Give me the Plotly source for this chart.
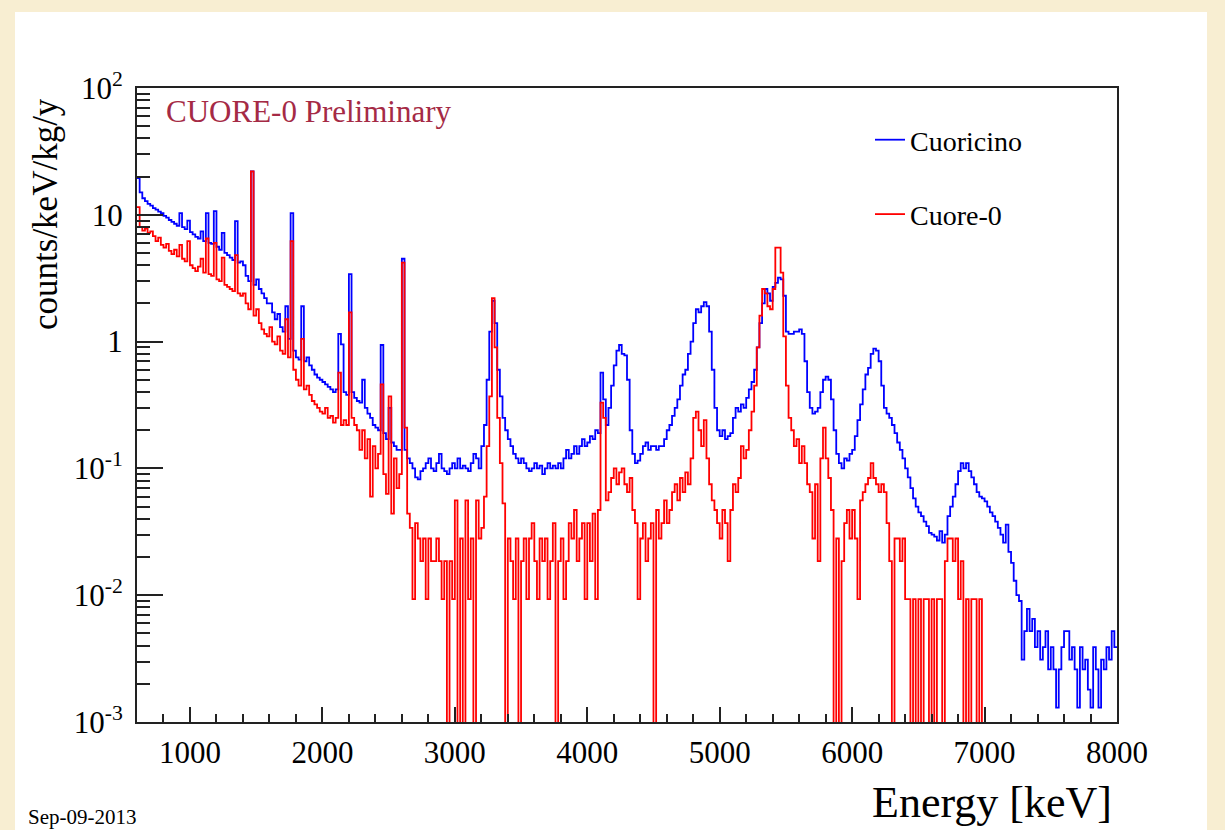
import numpy as np
import plotly.graph_objects as go

# Histogram binning (keV)
e_min = 600
e_max = 8000
bin_width = 20

# Cuoricino spectrum, counts/keV/kg/y, one value per 20 keV bin starting at 600 keV
cuoricino = [
    19.5, 15, 13.5, 12.8, 12.2, 11.8, 11.3, 11, 10.6, 10.3,
    9.8, 9.5, 9.1, 8.8, 8.5, 8.2, 10.3, 8.0, 7.7, 9.0,
    7.3, 7.0, 6.7, 6.5, 7.4, 6.2, 10.3, 6.0, 5.9, 10.7,
    5.6, 5.3, 7.2, 5.0, 4.8, 4.6, 4.4, 8.9, 4.2, 4.3,
    4.0, 3.3, 3.0, 22, 2.8, 3.1, 2.6, 2.4, 2.2, 2.0,
    2.0, 1.7, 1.5, 1.65, 1.3, 1.2, 1.9, 1.05, 10.3, 0.85,
    0.75, 0.72, 1.9, 0.7, 0.75, 0.65, 0.6, 0.55, 0.52, 0.5,
    0.48, 0.46, 0.44, 0.42, 0.4, 0.42, 1.15, 0.95, 0.4, 0.38,
    3.4, 0.4, 0.36, 0.34, 0.33, 0.5, 0.3, 0.27, 0.25, 0.22,
    0.21, 0.2, 0.94, 0.19, 0.17, 0.3, 0.16, 0.15, 0.14, 0.14,
    4.5, 0.14, 0.12, 0.11, 0.1, 0.085, 0.082, 0.095, 0.1, 0.11,
    0.12, 0.1, 0.095, 0.11, 0.13, 0.1, 0.095, 0.09, 0.1, 0.11,
    0.1, 0.12, 0.1, 0.105, 0.1, 0.095, 0.11, 0.13, 0.12, 0.1,
    0.15, 0.22, 0.5, 1.2, 2.1, 1.4, 0.6, 0.37, 0.25, 0.2,
    0.17, 0.15, 0.13, 0.12, 0.11, 0.12, 0.11, 0.1, 0.095, 0.1,
    0.11, 0.1, 0.105, 0.09, 0.1, 0.11, 0.1, 0.105, 0.1, 0.11,
    0.1, 0.12, 0.14, 0.12, 0.13, 0.15, 0.13, 0.15, 0.17, 0.15,
    0.16, 0.18, 0.17, 0.2, 0.19, 0.57, 0.35, 0.22, 0.3, 0.45,
    0.65, 0.85, 0.94, 0.8, 0.78, 0.5, 0.2, 0.13, 0.11, 0.115,
    0.13, 0.15, 0.16, 0.14, 0.15, 0.15, 0.14, 0.15, 0.15, 0.17,
    0.2, 0.22, 0.26, 0.3, 0.35, 0.45, 0.55, 0.6, 0.8, 1.0,
    1.4, 1.8, 1.7, 1.9, 2.05, 1.9, 1.2, 0.6, 0.3, 0.2,
    0.18, 0.2, 0.17, 0.18, 0.19, 0.25, 0.3, 0.28, 0.32, 0.3,
    0.36, 0.42, 0.48, 0.6, 0.9, 1.4, 2.0, 2.6, 2.4, 2.1,
    2.7, 2.9, 3.2, 3.1, 2.3, 1.2, 1.15, 1.15, 1.2, 1.2,
    1.25, 1.15, 0.7, 0.4, 0.3, 0.27, 0.28, 0.3, 0.4, 0.5,
    0.53, 0.5, 0.35, 0.2, 0.13, 0.11, 0.1, 0.12, 0.115, 0.13,
    0.14, 0.18, 0.24, 0.32, 0.42, 0.55, 0.62, 0.8, 0.88, 0.85,
    0.7, 0.45, 0.3, 0.27, 0.25, 0.22, 0.19, 0.16, 0.14, 0.12,
    0.1, 0.085, 0.07, 0.058, 0.05, 0.045, 0.042, 0.038, 0.035, 0.031,
    0.03, 0.029, 0.027, 0.032, 0.026, 0.03, 0.042, 0.05, 0.06, 0.075,
    0.095, 0.11, 0.1, 0.11, 0.095, 0.085, 0.075, 0.065, 0.06, 0.058,
    0.055, 0.05, 0.045, 0.042, 0.038, 0.034, 0.03, 0.026, 0.036, 0.022,
    0.018, 0.013, 0.01, 0.009, 0.0031, 0.0052, 0.0078, 0.0052, 0.0065, 0.0039,
    0.0052, 0.0031, 0.0039, 0.0052, 0.0026, 0.0039, 0.0026, 0.0013, 0.0026, 0.0039,
    0.0052, 0.0052, 0.0031, 0.0039, 0.0026, 0.0013, 0.0039, 0.0026, 0.0031, 0.0018,
    0.0013, 0.0039, 0.0026, 0.0013, 0.0031, 0.0026, 0.0039, 0.0031, 0.0052, 0.0039,
]

# CUORE-0 spectrum, counts/keV/kg/y, one value per 20 keV bin starting at 600 keV (0 = empty bin)
cuore0 = [
    11.5, 8.0, 7.5, 7.8, 7.2, 7.4, 6.8, 6.2, 6.6, 5.8,
    5.5, 5.9, 5.2, 4.9, 5.3, 4.7, 5.8, 4.5, 4.3, 6.2,
    4.0, 3.8, 3.6, 3.9, 4.5, 3.5, 6.5, 3.4, 3.3, 6.0,
    3.1, 3.0, 4.6, 2.8, 2.7, 2.6, 2.5, 4.8, 2.4, 2.3,
    2.4, 2.0, 1.8, 22, 1.6, 1.8, 1.4, 1.25, 1.15, 1.1,
    1.3, 1.0, 0.95, 1.1, 0.85, 0.8, 1.5, 0.75, 6.2, 0.6,
    0.5, 0.45, 1.05, 0.42, 0.45, 0.38, 0.34, 0.32, 0.3, 0.28,
    0.27, 0.3, 0.25, 0.26, 0.23, 0.25, 0.57, 0.22, 0.24, 0.22,
    1.7, 0.25, 0.22, 0.2, 0.14, 0.2, 0.12, 0.17, 0.06, 0.15,
    0.1, 0.13, 0.46, 0.09, 0.063, 0.37, 0.044, 0.12, 0.07, 0.09,
    4.2, 0.21, 0.044, 0.034, 0.0093, 0.037, 0.028, 0.0186, 0.028, 0.0093,
    0.028, 0.0186, 0.0186, 0.028, 0.0186, 0.0093, 0.0186, 0, 0.0186, 0.0093,
    0.056, 0, 0.028, 0, 0.056, 0.0093, 0.028, 0, 0.056, 0.028,
    0.034, 0.06, 0.15, 0.37, 2.2, 0.9, 0.25, 0.11, 0.053, 0,
    0.028, 0.0186, 0.0093, 0.028, 0, 0.0186, 0.028, 0.0093, 0.028, 0.037,
    0.0186, 0.0093, 0.028, 0.0186, 0.028, 0.0093, 0.0186, 0.037, 0, 0.0186,
    0.028, 0.0093, 0.0186, 0.037, 0.028, 0.047, 0.0186, 0.028, 0.037, 0.0093,
    0.037, 0.0186, 0.044, 0.0093, 0.047, 0.33, 0.25, 0.056, 0.065, 0.084,
    0.1, 0.075, 0.093, 0.1, 0.075, 0.065, 0.084, 0.047, 0.037, 0.0093,
    0.028, 0.037, 0.0186, 0.028, 0.037, 0, 0.047, 0.028, 0.037, 0.056,
    0.037, 0.047, 0.065, 0.075, 0.056, 0.084, 0.065, 0.093, 0.075, 0.12,
    0.25, 0.28, 0.2, 0.15, 0.24, 0.12, 0.075, 0.056, 0.047, 0.037,
    0.028, 0.047, 0.037, 0.0186, 0.047, 0.075, 0.065, 0.084, 0.15, 0.12,
    0.14, 0.2, 0.28, 0.45, 0.9, 1.6, 2.6, 2.4, 1.9, 1.8,
    2.6, 5.5, 5.5, 3.5, 1.1, 0.45, 0.25, 0.2, 0.15, 0.17,
    0.11, 0.15, 0.11, 0.075, 0.065, 0.028, 0.075, 0.0186, 0.12, 0.21,
    0.12, 0.084, 0.047, 0, 0.028, 0, 0.0186, 0.037, 0.047, 0.028,
    0.047, 0.028, 0.0093, 0.056, 0.065, 0.075, 0.084, 0.11, 0.084, 0.075,
    0.065, 0.075, 0.065, 0.037, 0.0186, 0, 0.028, 0.028, 0.0186, 0.028,
    0.0093, 0.0093, 0, 0.0093, 0, 0.0093, 0, 0.0093, 0.0093, 0,
    0.0093, 0, 0.0093, 0.0093, 0, 0.0186, 0.028, 0.028, 0.0186, 0.028,
    0.0093, 0.0186, 0, 0.0093, 0, 0.0093, 0.0093, 0, 0.0093, 0,
    0, 0, 0, 0, 0, 0, 0, 0, 0, 0,
    0, 0, 0, 0, 0, 0, 0, 0, 0, 0,
    0, 0, 0, 0, 0, 0, 0, 0, 0, 0,
    0, 0, 0, 0, 0, 0, 0, 0, 0, 0,
    0, 0, 0, 0, 0, 0, 0, 0, 0, 0,
]

x_ticks = [1000, 2000, 3000, 4000, 5000, 6000, 7000, 8000]
y_ticks = [1e-3, 1e-2, 1e-1, 1, 10, 100]
y_tick_text = ["10<sup>-3</sup>", "10<sup>-2</sup>", "10<sup>-1</sup>", "1", "10", "10<sup>2</sup>"]

edges = np.arange(e_min, e_max + bin_width, bin_width)
FLOOR = 1e-6  # empty bins drawn down to the axis floor, as ROOT does


def step_y(vals):
    v = np.array(vals, dtype=float)
    v = np.where(v > 0, v, FLOOR)
    return np.append(v, v[-1])


SERIF = "Liberation Serif, Times New Roman, serif"

fig = go.Figure()
fig.add_trace(go.Scatter(
    x=edges, y=step_y(cuoricino), mode="lines", line_shape="hv",
    line=dict(color="#0000ff", width=1.8), name="Cuoricino",
    legendgroup="a",
))
fig.add_trace(go.Scatter(
    x=edges, y=step_y(cuore0), mode="lines", line_shape="hv",
    line=dict(color="#ff0000", width=1.8), name="Cuore-0",
    legendgroup="b",
))

W, H = 1225, 830
L, R, T, B = 137, 108, 88, 108
pw, ph = W - L - R, H - T - B


def px(xp):
    return (xp - L) / pw


def py(yp):
    return (H - B - yp) / ph


fig.update_layout(
    width=W, height=H,
    margin=dict(l=L, r=R, t=T, b=B),
    paper_bgcolor="#f8eed2",
    plot_bgcolor="white",
    font=dict(family=SERIF, color="black"),
    showlegend=True,
    legend=dict(
        x=px(870), y=py(115), xanchor="left", yanchor="top",
        bgcolor="rgba(0,0,0,0)", font=dict(size=28, family=SERIF),
        tracegroupgap=35,
    ),
    shapes=[
        dict(type="rect", xref="paper", yref="paper", layer="below",
             x0=px(15), x1=px(1207), y0=py(835), y1=py(12),
             fillcolor="white", line=dict(width=0)),
    ],
    annotations=[
        dict(text="CUORE-0 Preliminary", xref="paper", yref="paper",
             x=px(164), y=py(111), xanchor="left", yanchor="middle",
             showarrow=False, font=dict(size=31, color="#a52a45", family=SERIF)),
        dict(text="counts/keV/kg/y", xref="paper", yref="paper",
             x=px(45), y=py(214), xanchor="center", yanchor="middle", textangle=-90,
             showarrow=False, font=dict(size=35, family=SERIF)),
        dict(text="Energy [keV]", xref="paper", yref="paper",
             x=px(1114), y=py(802), xanchor="right", yanchor="middle",
             showarrow=False, font=dict(size=44, family=SERIF)),
        dict(text="Sep-09-2013", xref="paper", yref="paper",
             x=px(26), y=py(817), xanchor="left", yanchor="middle",
             showarrow=False, font=dict(size=21, family=SERIF)),
    ],
)

fig.update_xaxes(
    range=[e_min, e_max], showgrid=False, zeroline=False,
    showline=True, linecolor="#222222", linewidth=2, mirror=True,
    ticks="inside", ticklen=15, tickwidth=1.5, tickcolor="#222222",
    tickvals=x_ticks, ticktext=[str(t) for t in x_ticks],
    tickfont=dict(size=31, family=SERIF), ticklabelstandoff=2,
    minor=dict(ticks="inside", ticklen=8, tickwidth=1.5, tickcolor="#222222",
               dtick=200, showgrid=False),
)
fig.update_yaxes(
    type="log", range=[-3, 2], showgrid=False, zeroline=False,
    showline=True, linecolor="#222222", linewidth=2, mirror=True,
    ticks="inside", ticklen=26, tickwidth=1.5, tickcolor="#222222",
    tickvals=y_ticks, ticktext=y_tick_text,
    tickfont=dict(size=31, family=SERIF), ticklabelstandoff=6,
    minor=dict(ticks="inside", ticklen=13, tickwidth=1.5, tickcolor="#222222",
               dtick="D1", showgrid=False),
)

fig.write_html(
    "out.html",
    config={"displayModeBar": False},
    post_script="document.body.style.margin='0';document.body.style.overflow='hidden';",
)
